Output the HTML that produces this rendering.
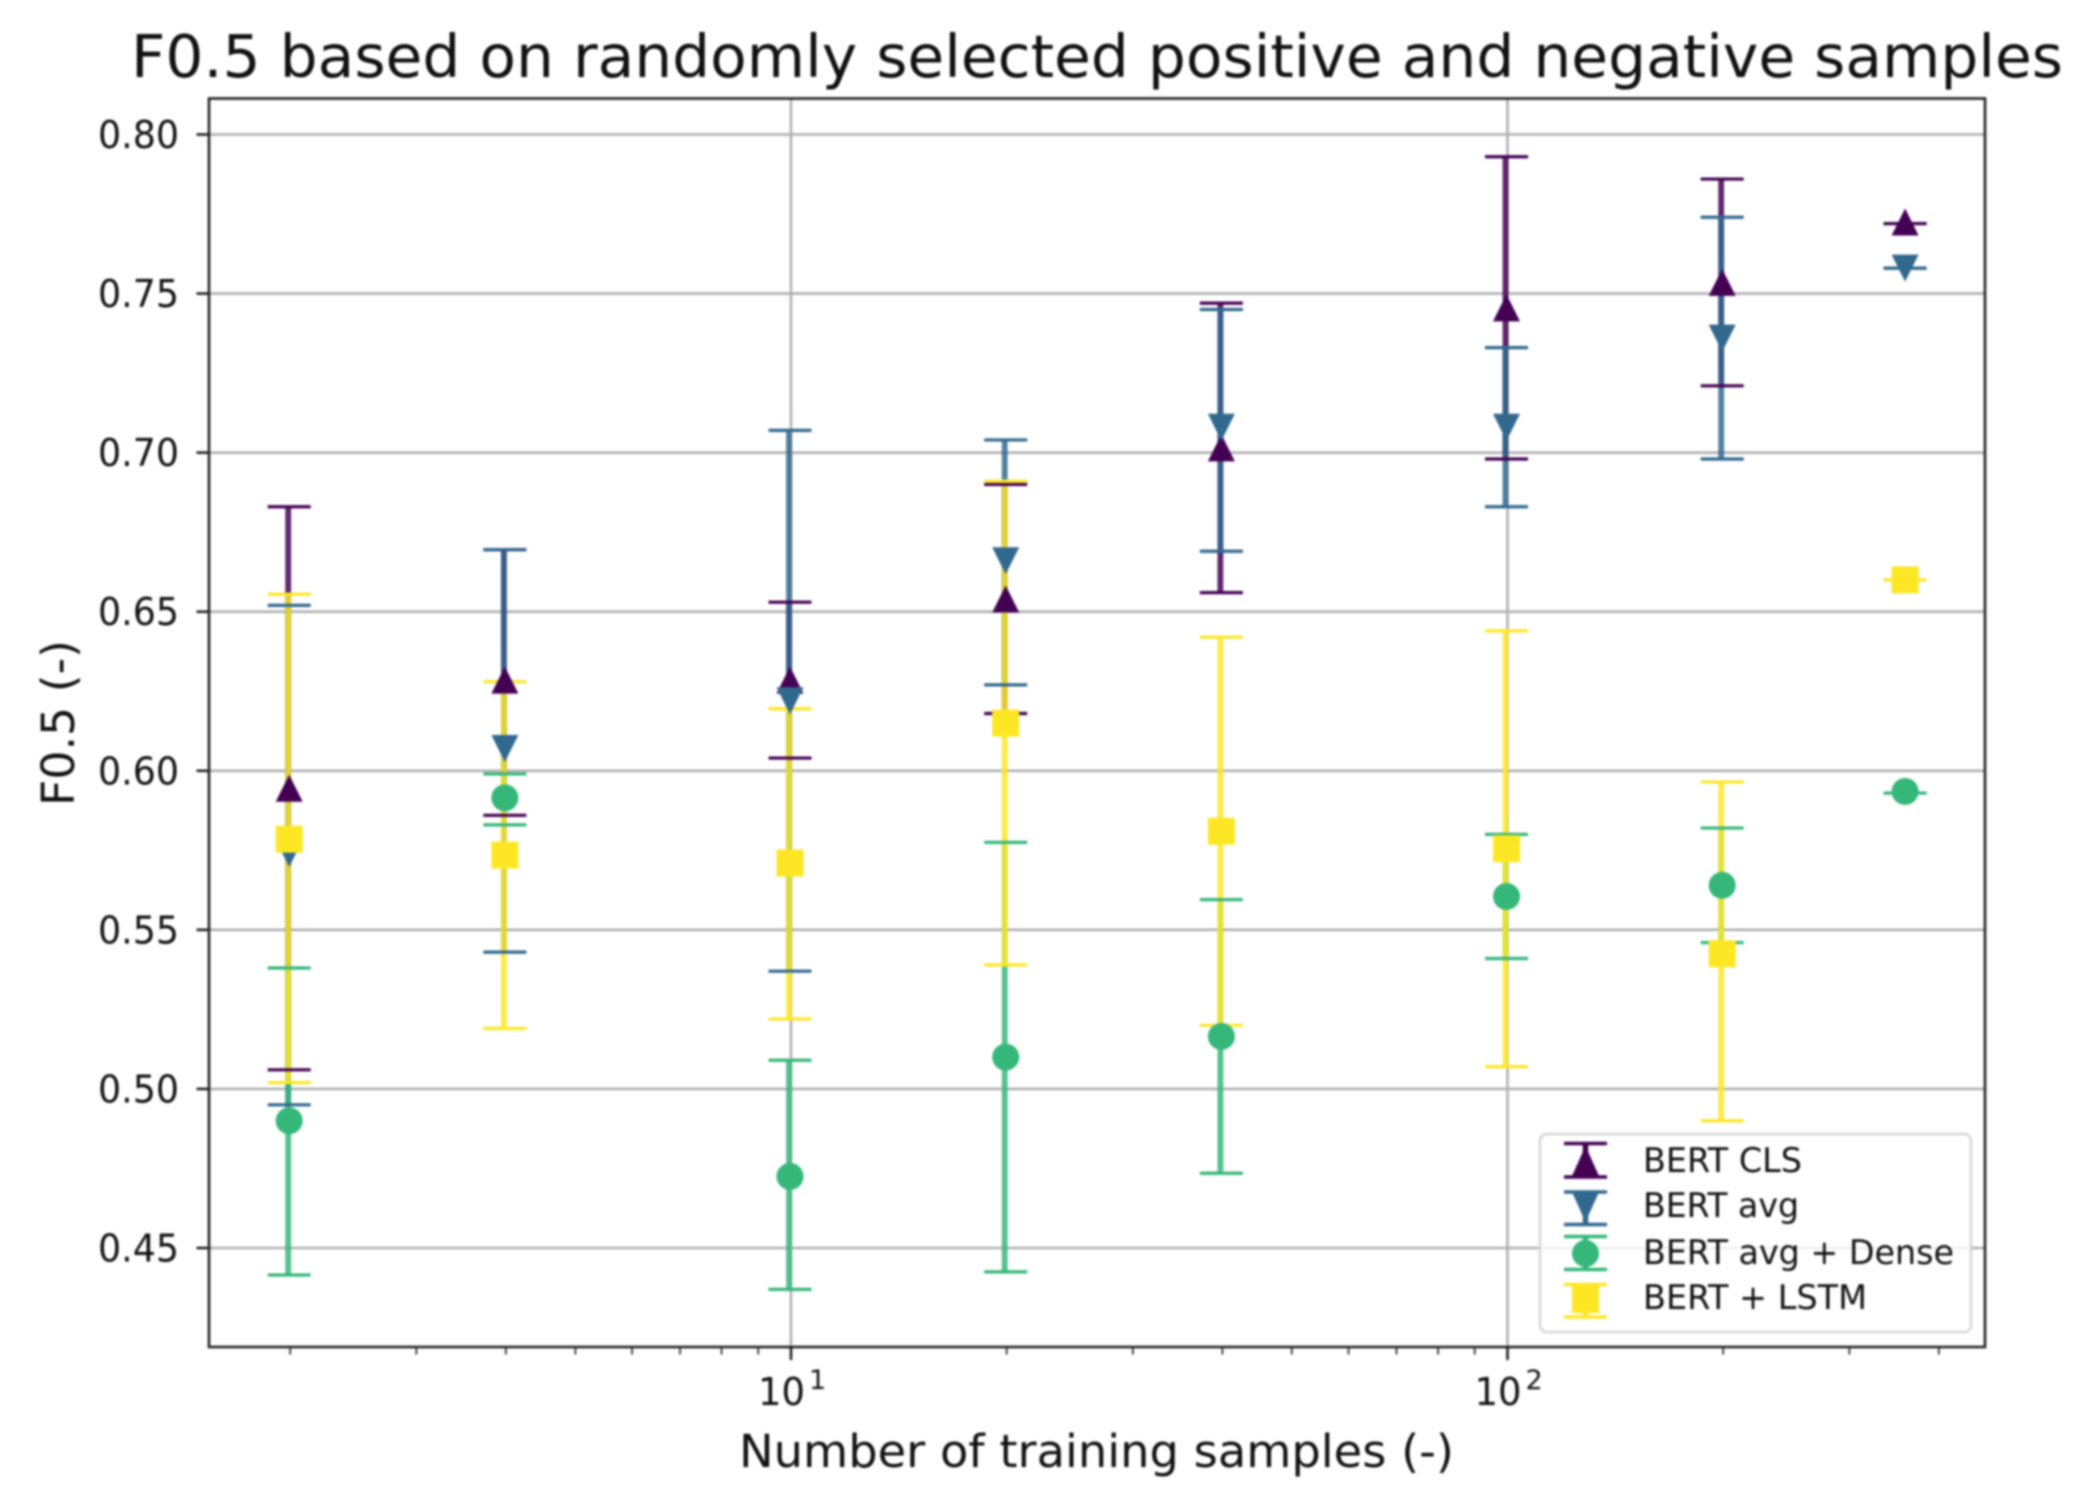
<!DOCTYPE html>
<html lang="en">
<head>
<meta charset="utf-8">
<title>F0.5 chart</title>
<style>
  html, body { margin: 0; padding: 0; background: #fff; }
  body { width: 2081px; height: 1492px; overflow: hidden; }
  svg { display: block; filter: blur(1px); }
  text { font-family: "DejaVu Sans", "Liberation Sans", sans-serif; fill: #111; }
</style>
</head>
<body>
<svg id="chart" xmlns="http://www.w3.org/2000/svg" width="2081" height="1492" viewBox="0 0 2081 1492">
  <rect x="0" y="0" width="2081" height="1492" fill="#fff"/>
  <text x="131" y="77" font-size="59" textLength="1932" lengthAdjust="spacingAndGlyphs">F0.5 based on randomly selected positive and negative samples</text>
  <text x="739" y="1467" font-size="45" textLength="715" lengthAdjust="spacingAndGlyphs">Number of training samples (-)</text>
  <text transform="translate(74 806) rotate(-90)" font-size="45" textLength="166" lengthAdjust="spacingAndGlyphs">F0.5 (-)</text>
  <g id="grid"></g>
  <g id="bars"></g>
  <g id="caps"></g>
  <g id="markers"></g>
  <g id="axes"></g>
  <g id="legend">
    <rect x="1540" y="1134" width="431" height="198" rx="7" fill="#fff" fill-opacity="0.8" stroke="#d6d6d6" stroke-width="2.5"/>
    <g>
      <path d="M1564 1143.500H1607M1564 1177H1607" stroke="#440154" stroke-width="3.500"/>
      <path d="M1585.500 1145V1175" stroke="#440154" stroke-width="5.500"/>
      <path d="M1585.500 1146L1599 1176H1572Z" fill="#440154"/>
      <text x="1643" y="1172" font-size="34" textLength="159" lengthAdjust="spacingAndGlyphs">BERT CLS</text>
    </g>
    <g>
      <path d="M1564 1192H1607M1564 1224.500H1607" stroke="#31688e" stroke-width="3.500"/>
      <path d="M1585.500 1193V1223" stroke="#31688e" stroke-width="5.500"/>
      <path d="M1572 1192L1599 1192L1585.500 1222Z" fill="#31688e"/>
      <text x="1643" y="1217" font-size="34" textLength="156" lengthAdjust="spacingAndGlyphs">BERT avg</text>
    </g>
    <g>
      <path d="M1564 1236.500H1607M1564 1269.500H1607" stroke="#35b779" stroke-width="3.500"/>
      <path d="M1585.500 1237V1269" stroke="#35b779" stroke-width="5.500"/>
      <circle cx="1585.500" cy="1253.500" r="13.500" fill="#35b779"/>
      <text x="1643" y="1264" font-size="34" textLength="311" lengthAdjust="spacingAndGlyphs">BERT avg + Dense</text>
    </g>
    <g>
      <path d="M1564 1284.500H1607M1564 1317H1607" stroke="#fde725" stroke-width="3.500"/>
      <path d="M1585.500 1285V1317" stroke="#fde725" stroke-width="5.500"/>
      <rect x="1572" y="1286" width="27" height="27" fill="#fde725"/>
      <text x="1643" y="1309" font-size="34" textLength="224" lengthAdjust="spacingAndGlyphs">BERT + LSTM</text>
    </g>
  </g>
</svg>
<script>
// Chart data
const sampleCounts = [2, 4, 10, 20, 40, 100, 200, 360];
const clsMean  = [0.5945, 0.6285, 0.6285, 0.654, 0.7015, 0.7455, 0.7535, 0.7725];
const clsUpper = [0.683, 0.6695, 0.653, 0.690, 0.747, 0.793, 0.786, 0.772];
const clsLower = [0.506, 0.586, 0.604, 0.618, 0.656, 0.698, 0.721, 0.772];
const avgMean  = [0.574, 0.607, 0.622, 0.666, 0.708, 0.708, 0.736, 0.758];
const avgUpper = [0.652, 0.6695, 0.707, 0.704, 0.745, 0.733, 0.774, 0.758];
const avgLower = [0.495, 0.543, 0.537, 0.627, 0.669, 0.683, 0.698, 0.758];
const denseMean  = [0.490, 0.5915, 0.4725, 0.510, 0.5165, 0.5605, 0.564, 0.5935];
const denseUpper = [0.538, 0.599, 0.509, 0.5775, 0.5595, 0.580, 0.582, 0.593];
const denseLower = [0.4415, 0.583, 0.437, 0.4425, 0.4735, 0.541, 0.546, 0.593];
const lstmMean  = [0.5785, 0.5735, 0.571, 0.615, 0.581, 0.5755, 0.5425, 0.660];
const lstmUpper = [0.6555, 0.628, 0.6195, 0.691, 0.642, 0.644, 0.5965, 0.660];
const lstmLower = [0.502, 0.519, 0.522, 0.539, 0.520, 0.507, 0.490, 0.660];
const yTicks = [0.45, 0.50, 0.55, 0.60, 0.65, 0.70, 0.75, 0.80];
const xMajorTicks = [10, 100];
const xMajorExponents = ['1', '2'];
const xMinorTicks = [2, 3, 4, 5, 6, 7, 8, 9, 20, 30, 40, 50, 60, 70, 80, 90, 200, 300, 400];

// Plot geometry and axis functions
const plotLeft = 209, plotRight = 1985, plotTop = 98.5, plotBottom = 1347;
function xScale(v) { return 791 + (Math.log10(v) - 1) * 716.5; }
function yScale(v) { return 134.5 + (0.80 - v) / 0.05 * 159.07; }

const NS = 'http://www.w3.org/2000/svg';
function make(tag, parent, attrs, text) {
  const el = document.createElementNS(NS, tag);
  for (const k in attrs) el.setAttribute(k, attrs[k]);
  if (text !== undefined) el.textContent = text;
  parent.appendChild(el);
  return el;
}

const gridG = document.getElementById('grid');
const barsG = document.getElementById('bars');
const capsG = document.getElementById('caps');
const markersG = document.getElementById('markers');
const axesG = document.getElementById('axes');

// Grid
yTicks.forEach(function (t) {
  const line = make('line', gridG, { x1: plotLeft, x2: plotRight, y1: yScale(t), y2: yScale(t), stroke: '#b0b0b0', 'stroke-width': 2.6 });
  
  
});
xMajorTicks.forEach(function (t) {
  const line = make('line', gridG, { x1: xScale(t), x2: xScale(t), y1: plotTop, y2: plotBottom, stroke: '#b0b0b0', 'stroke-width': 2.6 });
  
  
});

// Series drawing
const halfCap = 21.5, halfMarker = 13.5, dataShift = -1;
function drawSeries(key, color, means, uppers, lowers, shape) {
  sampleCounts.forEach(function (n, i) {
    const x = xScale(n) + dataShift;
    const yHigh = yScale(uppers[i]);
    const yLow = yScale(lowers[i]);
    const yMid = yScale(means[i]);

    const bar = make('line', barsG, { x1: x - 1, x2: x - 1, y1: yHigh, y2: yLow, stroke: color, 'stroke-width': 5.8, 'stroke-opacity': 0.85 });
    
    

    [yHigh, yLow].forEach(function (yCap) {
      const cap = make('line', capsG, { x1: x - halfCap, x2: x + halfCap, y1: yCap, y2: yCap, stroke: color, 'stroke-width': 3.2 });
      
      
    });

    const h = halfMarker;
    let mark;
    if (shape === 'up') {
      mark = make('path', markersG, { d: 'M' + x + ' ' + (yMid - h) + 'L' + (x + h) + ' ' + (yMid + h) + 'L' + (x - h) + ' ' + (yMid + h) + 'Z', fill: color });
    } else if (shape === 'down') {
      mark = make('path', markersG, { d: 'M' + (x - h) + ' ' + (yMid - h) + 'L' + (x + h) + ' ' + (yMid - h) + 'L' + x + ' ' + (yMid + h) + 'Z', fill: color });
    } else if (shape === 'circle') {
      mark = make('circle', markersG, { cx: x, cy: yMid, r: h, fill: color });
    } else {
      mark = make('rect', markersG, { x: x - h, y: yMid - h, width: 2 * h, height: 2 * h, fill: color });
    }
    
    
  });
}
drawSeries('bert-cls', '#440154', clsMean, clsUpper, clsLower, 'up');
drawSeries('bert-avg', '#31688e', avgMean, avgUpper, avgLower, 'down');
drawSeries('bert-avg-dense', '#35b779', denseMean, denseUpper, denseLower, 'circle');
drawSeries('bert-lstm', '#fde725', lstmMean, lstmUpper, lstmLower, 'square');

// Axes frame
const frame = make('rect', axesG, { x: plotLeft, y: plotTop, width: plotRight - plotLeft, height: plotBottom - plotTop, fill: 'none', stroke: '#222', 'stroke-width': 2.6 });



// Y ticks
yTicks.forEach(function (t) {
  const y = yScale(t);
  const tick = make('line', axesG, { x1: plotLeft - 12.5, x2: plotLeft, y1: y, y2: y, stroke: '#222', 'stroke-width': 2.6 });
  
  
  const label = make('text', axesG, { x: 98, y: y + 13.5, 'font-size': 38, textLength: 81, lengthAdjust: 'spacingAndGlyphs' }, t.toFixed(2));
  
  
});

// X ticks
xMinorTicks.forEach(function (t) {
  const x = xScale(t);
  const tick = make('line', axesG, { x1: x, x2: x, y1: plotBottom, y2: plotBottom + 7.5, stroke: '#333', 'stroke-width': 1.8 });
  
  
});
xMajorTicks.forEach(function (t, i) {
  const x = xScale(t);
  const tick = make('line', axesG, { x1: x, x2: x, y1: plotBottom, y2: plotBottom + 13, stroke: '#222', 'stroke-width': 2.6 });
  
  
  const base = make('text', axesG, { x: x - 33, y: 1405, 'font-size': 38, textLength: 47, lengthAdjust: 'spacingAndGlyphs' }, '10');
  
  
  const exp = make('text', axesG, { x: x + 18, y: 1389, 'font-size': 27 }, xMajorExponents[i]);
  
  
});
</script>
</body>
</html>
